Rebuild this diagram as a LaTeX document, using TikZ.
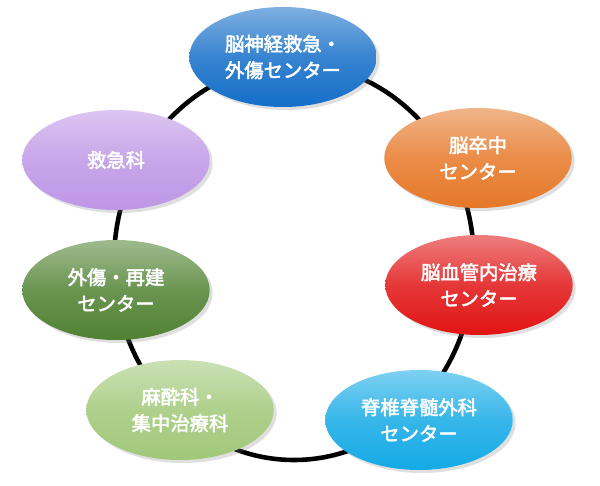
\documentclass[tikz,border=0pt]{standalone}
\usepackage{fontspec}
\setmainfont{Noto Sans CJK JP}[AutoFakeBold=2.5]
\usetikzlibrary{shapes.geometric,shadows}
\definecolor{cblue}{RGB}{20,110,200}
\definecolor{corange}{RGB}{230,120,40}
\definecolor{cred}{RGB}{225,20,20}
\definecolor{ccyan}{RGB}{20,170,230}
\definecolor{clgreen}{RGB}{160,200,120}
\definecolor{cdgreen}{RGB}{80,130,50}
\definecolor{cviolet}{RGB}{190,150,230}

\tikzset{
 dept/.style={ellipse, inner sep=0pt, minimum width=3.75cm, minimum height=2cm,
   text=white, font=\bfseries\fontsize{11}{15}\selectfont, align=center,
   top color=#1!55!white, bottom color=#1, middle color=#1!85!white,
   drop shadow={opacity=0.25, shadow xshift=0.06cm, shadow yshift=-0.06cm}},
 ring/.style={line width=2.6pt, black}
}

\begin{document}
\begin{tikzpicture}[x=0.02cm, y=-0.02cm]
 \useasboundingbox (0,0) rectangle (600,485);
 \draw[ring] (294,262) ellipse [x radius=180, y radius=198];

 \node[dept=cblue] (nsa) at (283,57) {脳神経救急・\\外傷センター};
 \node[dept=corange] (stroke) at (478,158) {脳卒中\\センター};
 \node[dept=cred] (endo) at (479,285) {脳血管内治療\\センター};
 \node[dept=ccyan] (spine) at (419,420) {脊椎脊髄外科\\センター};
 \node[dept=clgreen] (anes) at (180,410) {麻酔科・\\集中治療科};
 \node[dept=cdgreen] (trauma) at (116,290) {外傷・再建\\センター};
 \node[dept=cviolet] (er) at (116,160) {救急科};
\end{tikzpicture}
\end{document}
